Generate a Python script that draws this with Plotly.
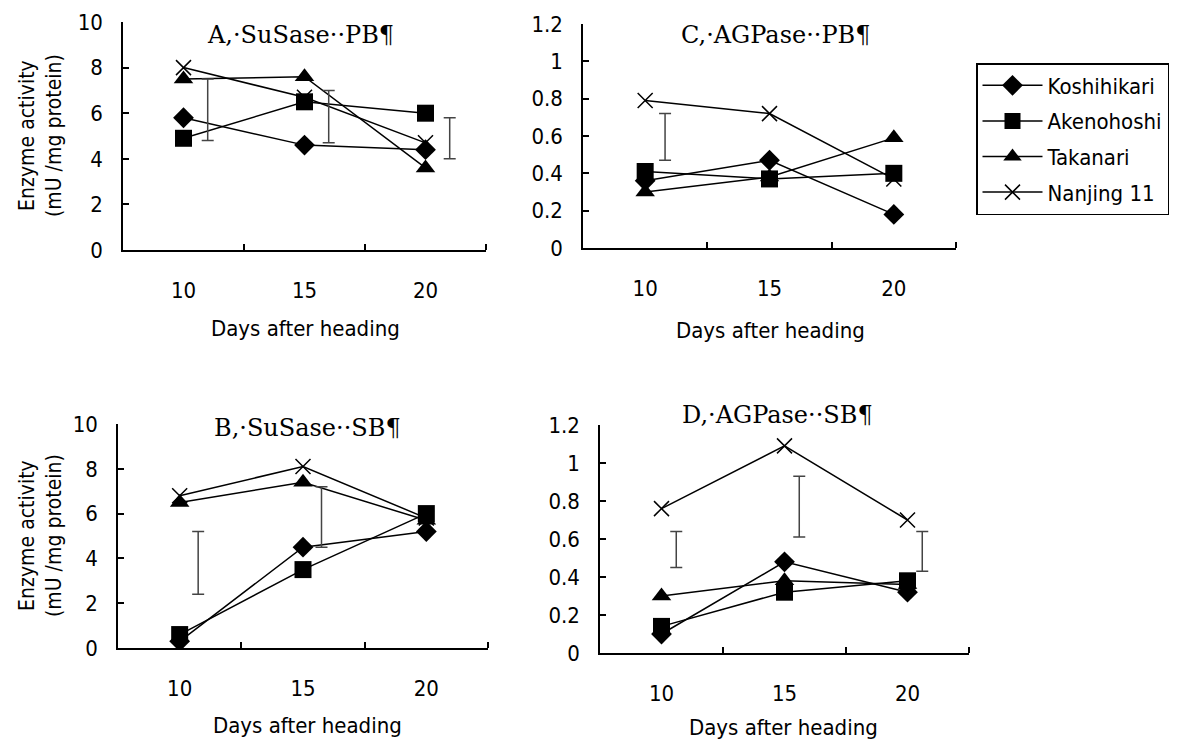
import plotly.graph_objects as go

# ---------------- data ----------------
days = [10, 15, 20]
cultivars = ["Koshihikari", "Akenohoshi", "Takanari", "Nanjing 11"]

# A: SuSase, PB
susase_pb = {
    "Koshihikari": [5.8, 4.6, 4.4],
    "Akenohoshi": [4.9, 6.5, 6.0],
    "Takanari": [7.5, 7.6, 3.6],
    "Nanjing 11": [8.0, 6.7, 4.7],
}
# B: SuSase, SB
susase_sb = {
    "Koshihikari": [0.3, 4.5, 5.2],
    "Akenohoshi": [0.6, 3.5, 6.0],
    "Takanari": [6.5, 7.4, 5.7],
    "Nanjing 11": [6.8, 8.1, 5.8],
}
# C: AGPase, PB
agpase_pb = {
    "Koshihikari": [0.36, 0.47, 0.18],
    "Akenohoshi": [0.41, 0.37, 0.40],
    "Takanari": [0.30, 0.38, 0.59],
    "Nanjing 11": [0.79, 0.72, 0.37],
}
# D: AGPase, SB
agpase_sb = {
    "Koshihikari": [0.10, 0.48, 0.32],
    "Akenohoshi": [0.14, 0.32, 0.38],
    "Takanari": [0.30, 0.38, 0.36],
    "Nanjing 11": [0.76, 1.09, 0.70],
}

# LSD bars (low, high) per day; None = no bar
lsd_a_low = [4.8, 4.7, 4.0]
lsd_a_high = [7.5, 7.0, 5.8]
lsd_b_low = [2.4, 4.5, None]
lsd_b_high = [5.2, 7.2, None]
lsd_c_low = [0.47, None, None]
lsd_c_high = [0.72, None, None]
lsd_d_low = [0.45, 0.61, 0.43]
lsd_d_high = [0.64, 0.93, 0.64]

titles = {
    "A": "A,·SuSase··PB¶",
    "B": "B,·SuSase··SB¶",
    "C": "C,·AGPase··PB¶",
    "D": "D,·AGPase··SB¶",
}
x_title = "Days after heading"
y_title = "Enzyme activity<br>(mU /mg protein)"

# ---------------- styling ----------------
W, H = 1181, 740
symbols = {
    "Koshihikari": ("diamond", 16),
    "Akenohoshi": ("square", 17),
    "Takanari": ("triangle-up", 17),
    "Nanjing 11": ("x-thin-open", 15),
}
SANS = "DejaVu Sans Condensed, DejaVu Sans, sans-serif"
SERIF = "DejaVu Serif, Liberation Serif, serif"

def px_x(p):
    return p / W

def px_y(p):
    return 1 - p / H

panels = [
    ("A", susase_pb, lsd_a_low, lsd_a_high, (123, 486), (22, 250), 10, 2, 1.0, (300, 35), (305, 328), True),
    ("C", agpase_pb, lsd_c_low, lsd_c_high, (583, 956), (24, 248), 1.2, 0.2, 0.8, (775, 35), (770, 330), False),
    ("B", susase_sb, lsd_b_low, lsd_b_high, (118, 488), (424, 648), 10, 2, 0.75, (307, 428), (307, 725), True),
    ("D", agpase_sb, lsd_d_low, lsd_d_high, (600, 969), (425, 653), 1.2, 0.2, 0.6, (777, 415), (783, 727), False),
]

fig = go.Figure()
layout = dict(
    width=W, height=H, autosize=False,
    margin=dict(l=0, r=0, t=0, b=0, pad=0),
    paper_bgcolor="white", plot_bgcolor="white",
    showlegend=True,
    legend=dict(
        x=px_x(976), y=px_y(63), xanchor="left", yanchor="top",
        bordercolor="black", borderwidth=1.5, bgcolor="white",
        font=dict(family=SANS, size=22, color="black"),
        tracegroupgap=4, itemsizing="trace", itemwidth=60,
    ),
    annotations=[],
)

for i, (key, data, lo, hi, xp, yp, ymax, dtick, off, tpos, xtpos, left) in enumerate(panels):
    n = "" if i == 0 else str(i + 1)
    xa, ya = "x" + n, "y" + n
    layout["xaxis" + n] = dict(
        domain=[px_x(xp[0]), px_x(xp[1])], anchor=ya, automargin=False,
        range=[7.5, 22.5], tickvals=days, ticktext=[str(d) for d in days],
        ticks="", showline=True, linecolor="black", linewidth=1.5,
        showgrid=False, zeroline=False,
        tickfont=dict(family=SANS, size=22, color="black"),
        ticklabelstandoff=20,
        minor=dict(tickvals=[12.5, 17.5, 22.5], ticks="inside", ticklen=6,
                   tickwidth=1.5, tickcolor="black", showgrid=False),
    )
    layout["yaxis" + n] = dict(
        domain=[px_y(yp[1]), px_y(yp[0])], anchor=xa, automargin=False,
        range=[0, ymax], dtick=dtick, tick0=0,
        ticks="inside", ticklen=6, tickwidth=1.5, tickcolor="black",
        showline=True, linecolor="black", linewidth=1.5,
        showgrid=False, zeroline=False,
        tickfont=dict(family=SANS, size=22, color="black"),
        ticklabelstandoff=14,
    )
    for c in cultivars:
        sym, sz = symbols[c]
        is_x = sym.startswith("x")
        fig.add_trace(go.Scatter(
            x=days, y=data[c], mode="lines+markers", name=c,
            xaxis=xa, yaxis=ya, legendgroup=c, showlegend=(i == 0),
            line=dict(color="black", width=1.5),
            marker=dict(symbol=sym, size=sz, color="black",
                        line=dict(color="black", width=1.5 if is_x else 0)),
        ))
    bx, by, be = [], [], []
    for d, l, h in zip(days, lo, hi):
        if l is None:
            continue
        bx.append(d + off)
        by.append((l + h) / 2)
        be.append((h - l) / 2)
    fig.add_trace(go.Scatter(
        x=bx, y=by, mode="markers", xaxis=xa, yaxis=ya, showlegend=False,
        marker=dict(size=1, color="rgba(0,0,0,0)"), hoverinfo="skip",
        error_y=dict(type="data", array=be, symmetric=True, color="#444",
                     thickness=1.5, width=6),
    ))
    layout["annotations"].append(dict(
        x=px_x(tpos[0]), y=px_y(tpos[1]), xref="paper", yref="paper",
        text=titles[key], showarrow=False, xanchor="center", yanchor="middle",
        font=dict(family=SERIF, size=24, color="black"),
    ))
    layout["annotations"].append(dict(
        x=px_x(xtpos[0]), y=px_y(xtpos[1]), xref="paper", yref="paper",
        text=x_title, showarrow=False, xanchor="center", yanchor="middle",
        font=dict(family=SANS, size=22, color="black"),
    ))
    if left:
        layout["annotations"].append(dict(
            x=px_x(40), y=px_y((yp[0] + yp[1]) / 2), xref="paper", yref="paper",
            text=y_title, showarrow=False, textangle=-90,
            xanchor="center", yanchor="middle",
            font=dict(family=SANS, size=21, color="black"),
        ))

fig.update_layout(**layout)
fig.write_html("out.html", config={"displayModeBar": False},
               post_script="document.body.style.margin='0';")
